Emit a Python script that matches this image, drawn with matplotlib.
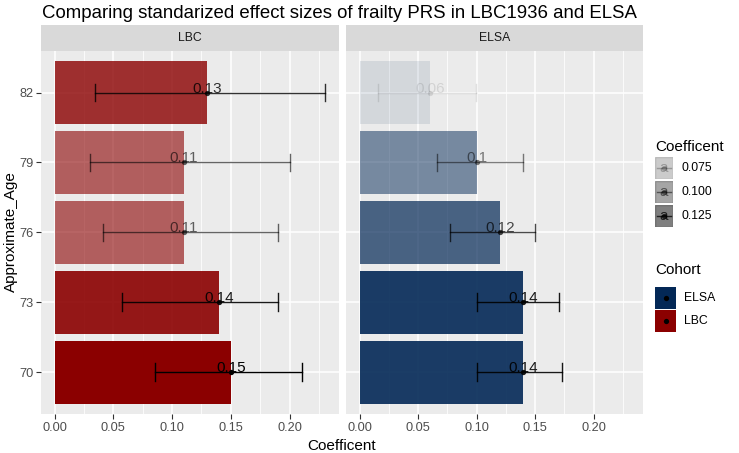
import numpy as np
import matplotlib
matplotlib.use("Agg")
import matplotlib.pyplot as plt
from matplotlib.patches import Rectangle
from matplotlib.lines import Line2D

plt.rcParams['font.family'] = ['Liberation Sans', 'DejaVu Sans']

# data
ages = ["70", "73", "76", "79", "82"]
lbc_coef = [0.15, 0.14, 0.11, 0.11, 0.13]
lbc_lo = [0.0856, 0.0578, 0.0416, 0.0305, 0.0347]
lbc_hi = [0.2103, 0.1904, 0.1904, 0.2003, 0.2305]
elsa_coef = [0.14, 0.14, 0.12, 0.10, 0.06]
elsa_lo = [0.100, 0.100, 0.0771, 0.066, 0.0162]
elsa_hi = [0.1727, 0.1699, 0.150, 0.1394, 0.0996]
alpha_breaks = [0.075, 0.100, 0.125]
cohorts = ["ELSA", "LBC"]
cohort_colors = {"LBC": "#8B0000", "ELSA": "#032856"}

W, H = 739, 453
fig = plt.figure(figsize=(W / 100, H / 100), dpi=100)

def box(x0, y0, x1, y1):
    # pixel box (top-left origin) -> figure fraction
    return [x0 / W, 1 - y1 / H, (x1 - x0) / W, (y1 - y0) / H]

all_c = lbc_coef + elsa_coef
cmin, cmax = min(all_c), max(all_c)

def alpha_of(v):
    return 0.1 + 0.9 * (v - cmin) / (cmax - cmin)

xmax = max(max(lbc_hi), max(elsa_hi))
xlim = (-0.05 * xmax, 1.05 * xmax)

panels = [("LBC", lbc_coef, lbc_lo, lbc_hi, 41, 339),
          ("ELSA", elsa_coef, elsa_lo, elsa_hi, 346, 643)]

ypos = np.arange(len(ages))
for i, (name, coef, lo, hi, px0, px1) in enumerate(panels):
    ax = fig.add_axes(box(px0, 50.7, px1, 414))
    ax.set_facecolor("#EBEBEB")
    for s in ax.spines.values():
        s.set_visible(False)
    ax.set_xlim(*xlim)
    ax.set_ylim(-0.6, len(ages) - 0.4)
    ax.set_xticks([0, 0.05, 0.10, 0.15, 0.20])
    ax.set_xticks([0.025, 0.075, 0.125, 0.175, 0.225], minor=True)
    ax.set_xticklabels(["0.00", "0.05", "0.10", "0.15", "0.20"])
    ax.set_yticks(ypos)
    ax.grid(which="major", color="white", lw=1.1)
    ax.grid(which="minor", axis="x", color="white", lw=0.55)
    ax.set_axisbelow(True)
    ax.tick_params(axis="both", which="major", length=3.5, width=0.8, color="#333333",
                   labelsize=9.2, labelcolor="#4D4D4D", pad=2)
    ax.tick_params(which="minor", length=0)
    if i == 0:
        ax.set_yticklabels(ages)
    else:
        ax.set_yticklabels([])
        ax.tick_params(axis="y", length=0)

    col = cohort_colors[name]
    for y, c, l, h in zip(ypos, coef, lo, hi):
        a = alpha_of(c)
        ax.barh(y, c, height=0.9, color=col, alpha=a, zorder=2)
        ax.plot([l, h], [y, y], color="black", alpha=a, lw=1.0, zorder=3)
        ax.plot([l, l], [y - 0.125, y + 0.125], color="black", alpha=a, lw=1.0, zorder=3)
        ax.plot([h, h], [y - 0.125, y + 0.125], color="black", alpha=a, lw=1.0, zorder=3)
        ax.plot(c, y, "o", color="black", alpha=a, ms=3.8, mec="none", zorder=4)
        ax.text(c, y, f"{c:g}", ha="center", va="baseline", fontsize=11,
                color="black", alpha=a, zorder=5)

    # facet strip
    sax = fig.add_axes(box(px0, 25, px1, 50.7))
    sax.set_facecolor("#D9D9D9")
    sax.set_xticks([])
    sax.set_yticks([])
    for s in sax.spines.values():
        s.set_visible(False)
    sax.text(0.5, 0.5, name, ha="center", va="center", fontsize=8.8,
             color="#1A1A1A", transform=sax.transAxes)

fig.text(42 / W, 1 - 13 / H, "Comparing standarized effect sizes of frailty PRS in LBC1936 and ELSA",
         ha="left", va="center", fontsize=13.4, color="black")
fig.text(342 / W, 1 - 446 / H, "Coefficent", ha="center", va="center", fontsize=11)
fig.text(11 / W, 1 - 232 / H, "Approximate_Age", ha="center", va="center",
         rotation=90, fontsize=11)

# legend: alpha
lx0, lx1 = 655, 673
fig.text(lx0 / W, 1 - 147 / H, "Coefficent", ha="left", va="center", fontsize=11)
for k, b in enumerate(alpha_breaks):
    yc = 168 + k * 24
    a = alpha_of(b)
    kax = fig.add_axes(box(lx0, yc - 11, lx1, yc + 11))
    kax.set_xlim(0, 1)
    kax.set_ylim(0, 1)
    kax.axis("off")
    kax.add_patch(Rectangle((0, 0), 1, 1, color="#F2F2F2"))
    kax.add_patch(Rectangle((0, 0), 1, 1, color="#595959", alpha=a))
    kax.add_line(Line2D([0.1, 0.9], [0.5, 0.5], color="black", alpha=a, lw=1.0))
    kax.text(0.5, 0.5, "a", ha="center", va="center", fontsize=11, alpha=a)
    kax.plot(0.5, 0.5, "o", color="black", alpha=a, ms=3.8, mec="none")
    fig.text(681 / W, 1 - yc / H, f"{b:.3f}", ha="left", va="center", fontsize=8.8)

# legend: cohort
fig.text(lx0 / W, 1 - 270 / H, "Cohort", ha="left", va="center", fontsize=11)
for k, name in enumerate(cohorts):
    yc = 298 + k * 23
    kax = fig.add_axes(box(lx0, yc - 11, lx1 + 3, yc + 11))
    kax.set_xlim(0, 1)
    kax.set_ylim(0, 1)
    kax.axis("off")
    kax.add_patch(Rectangle((0, 0), 1, 1, color=cohort_colors[name]))
    kax.plot(0.5, 0.5, "o", color="black", ms=3.8, mec="none")
    fig.text(684 / W, 1 - yc / H, name, ha="left", va="center", fontsize=8.8)

fig.savefig("out.png", dpi=100)
